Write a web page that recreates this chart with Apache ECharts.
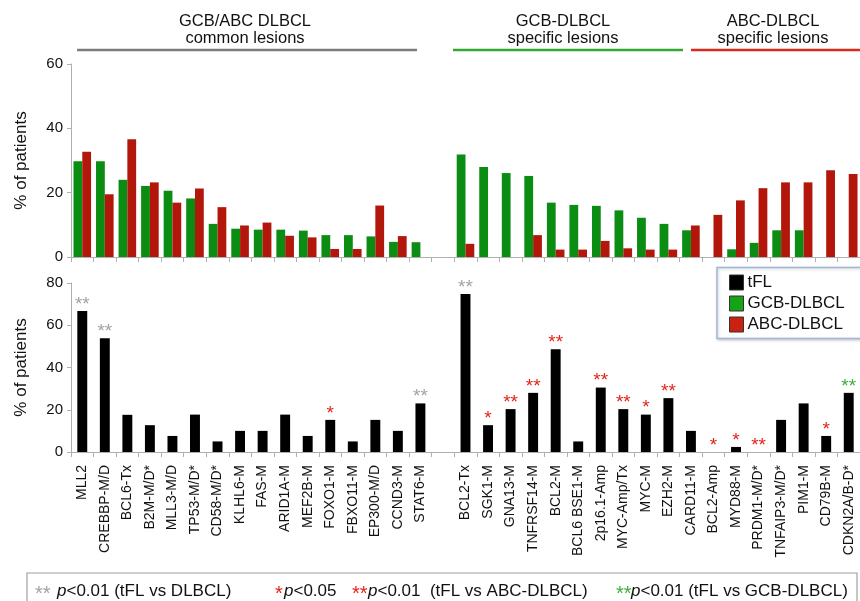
<!DOCTYPE html>
<html lang="en">
<head>
  <meta charset="UTF-8">
  <title>tFL vs DLBCL lesions</title>
  <script src="https://cdn.jsdelivr.net/npm/echarts@6/dist/echarts.min.js"></script>
  <style>
    html, body { margin: 0; padding: 0; background: #fff; overflow: hidden; }
    #main { width: 860px; height: 601px; }
  </style>
</head>
<body>

<div id="main"></div>

<script>
  var FONT = '"Liberation Sans", Arial, Helvetica, sans-serif';

  // lesions (empty string = gap between common and specific groups)
  var categories = [
    'MLL2', 'CREBBP-M/D', 'BCL6-Tx', 'B2M-M/D*', 'MLL3-M/D', 'TP53-M/D*', 'CD58-M/D*', 'KLHL6-M',
    'FAS-M', 'ARID1A-M', 'MEF2B-M', 'FOXO1-M', 'FBXO11-M', 'EP300-M/D', 'CCND3-M', 'STAT6-M',
    '',
    'BCL2-Tx', 'SGK1-M', 'GNA13-M', 'TNFRSF14-M', 'BCL2-M', 'BCL6 BSE1-M', '2p16.1-Amp', 'MYC-Amp/Tx',
    'MYC-M', 'EZH2-M',
    'CARD11-M', 'BCL2-Amp', 'MYD88-M', 'PRDM1-M/D*', 'TNFAIP3-M/D*', 'PIM1-M', 'CD79B-M', 'CDKN2A/B-D*'
  ];

  // top panel: DLBCL subtypes (% of patients)
  var gcbValues = [
    29.8, 29.8, 24.0, 22.1, 20.6, 18.2, 10.3, 8.8, 8.5, 8.5, 8.2, 6.8, 6.8, 6.4, 4.7, 4.6,
    null,
    31.9, 28.0, 26.1, 25.2, 16.9, 16.2, 15.9, 14.5, 12.2, 10.3,
    8.3, 0, 2.4, 4.4, 8.3, 8.3, 0, 0
  ];
  var abcValues = [
    32.7, 19.5, 36.6, 23.2, 16.9, 21.3, 15.5, 9.8, 10.7, 6.6, 6.1, 2.5, 2.5, 16.0, 6.5, 0,
    null,
    4.1, 0, 0, 6.8, 2.3, 2.3, 5.0, 2.7, 2.3, 2.3,
    9.8, 13.1, 17.6, 21.4, 23.2, 23.2, 27.0, 25.8
  ];

  // bottom panel: tFL (% of patients)
  var tflValues = [
    66.7, 53.8, 17.6, 12.7, 7.6, 17.7, 5.0, 10.0, 10.0, 17.7, 7.6, 15.2, 5.0, 15.2, 10.0, 23.0,
    null,
    74.8, 12.7, 20.3, 28.0, 48.6, 5.0, 30.5, 20.3, 17.7, 25.5,
    10.0, 0, 2.4, 0, 15.2, 23.0, 7.6, 28.0
  ];

  // significance marks above tFL bars
  var sigStars = [
    '**', '**', '', '', '', '', '', '', '', '', '', '*', '', '', '', '**',
    '',
    '**', '*', '**', '**', '**', '', '**', '**', '*', '**',
    '', '*', '*', '**', '', '', '*', '**'
  ];
  var sigKind = [
    'dl', 'dl', '', '', '', '', '', '', '', '', '', 'abc', '', '', '', 'dl',
    '',
    'dl', 'abc', 'abc', 'abc', 'abc', '', 'abc', 'abc', 'abc', 'abc',
    '', 'abc', 'abc', 'abc', '', '', 'abc', 'gcb'
  ];
  var sigColors = { dl: '#a3a3a3', abc: '#e2231a', gcb: '#3fae3a' };

  var topTicks = [0, 20, 40, 60];
  var bottomTicks = [0, 20, 40, 60, 80];

  var GREEN = '#0b8c12';
  var RED = '#b3170c';
  var AXIS = '#b0b0b0';

  var tflData = tflValues.map(function (v, i) {
    var item = { value: v };
    if (sigStars[i]) {
      item.label = {
        show: true,
        position: 'top',
        distance: -3,
        formatter: sigStars[i],
        color: sigColors[sigKind[i]],
        fontSize: 19,
        fontFamily: FONT
      };
    }
    return item;
  });

  function valueAxis(grid, ticks) {
    return {
      type: 'value',
      gridIndex: grid,
      min: ticks[0],
      max: ticks[ticks.length - 1],
      interval: ticks[1] - ticks[0],
      name: '% of patients',
      nameLocation: 'middle',
      nameGap: 41,
      nameTextStyle: { fontSize: 17, color: '#111', fontFamily: FONT },
      axisLine: { show: true, lineStyle: { color: AXIS } },
      axisTick: { show: true, length: 4, lineStyle: { color: AXIS } },
      axisLabel: { fontSize: 15, color: '#111', fontFamily: FONT, margin: 8 },
      splitLine: { show: false }
    };
  }

  function catAxis(grid, showLabels) {
    return {
      type: 'category',
      gridIndex: grid,
      data: categories,
      axisLine: { lineStyle: { color: AXIS } },
      axisTick: { show: true, length: 5, lineStyle: { color: AXIS } },
      axisLabel: {
        show: showLabels,
        interval: 0,
        rotate: 90,
        margin: 13,
        fontSize: 14,
        color: '#111',
        fontFamily: FONT
      }
    };
  }

  function header(text, x) {
    return {
      type: 'text',
      style: { text: text, x: x, y: 13, textAlign: 'center',
        font: '16.5px ' + FONT, fill: '#111', lineHeight: 17 }
    };
  }

  function note(text, x) {
    return {
      type: 'text',
      style: { text: text, x: x, y: 591, textVerticalAlign: 'middle',
        font: '17px ' + FONT, fill: '#111',
        rich: { i: { fontStyle: 'italic', fontSize: 17, fontFamily: FONT, fill: '#111' } } }
    };
  }

  function noteStars(text, x, color) {
    return {
      type: 'text',
      style: { text: text, x: x, y: 594, textVerticalAlign: 'middle', font: '20px ' + FONT, fill: color }
    };
  }

  var chart = echarts.init(document.getElementById('main'));

  chart.setOption({
    animation: false,
    backgroundColor: '#fff',
    textStyle: { fontFamily: FONT },
    grid: [
      { left: 71, top: 64, width: 794, height: 193 },
      { left: 71, top: 283, width: 794, height: 169 }
    ],
    xAxis: [catAxis(0, false), catAxis(1, true)],
    yAxis: [valueAxis(0, topTicks), valueAxis(1, bottomTicks)],
    legend: {
      orient: 'vertical',
      left: 717,
      top: 267,
      z: 20,
      padding: [7, 12, 7, 12],
      itemGap: 4,
      itemWidth: 14,
      itemHeight: 15,
      textStyle: { fontSize: 17, color: '#111', fontFamily: FONT, padding: [0, 0, 0, -1] },
      data: [
        { name: 'tFL', icon: 'rect', itemStyle: { color: '#000', borderColor: '#333', borderWidth: 1 } },
        { name: 'GCB-DLBCL', icon: 'rect', itemStyle: { color: '#16a316', borderColor: '#333', borderWidth: 1 } },
        { name: 'ABC-DLBCL', icon: 'rect', itemStyle: { color: '#cc2010', borderColor: '#333', borderWidth: 1 } }
      ]
    },
    series: [
      {
        name: 'GCB-DLBCL',
        type: 'bar',
        xAxisIndex: 0,
        yAxisIndex: 0,
        data: gcbValues,
        barGap: '0%',
        barCategoryGap: '22%',
        itemStyle: { color: GREEN }
      },
      {
        name: 'ABC-DLBCL',
        type: 'bar',
        xAxisIndex: 0,
        yAxisIndex: 0,
        data: abcValues,
        itemStyle: { color: RED }
      },
      {
        name: 'tFL',
        type: 'bar',
        xAxisIndex: 1,
        yAxisIndex: 1,
        data: tflData,
        barWidth: '44%',
        itemStyle: { color: '#000' }
      }
    ],
    graphic: [
      // group headers
      header('GCB/ABC DLBCL\ncommon lesions', 245),
      header('GCB-DLBCL\nspecific lesions', 563),
      header('ABC-DLBCL\nspecific lesions', 773),
      { type: 'line', shape: { x1: 77, y1: 50, x2: 417, y2: 50 }, style: { stroke: '#7d7d7d', lineWidth: 2.5 } },
      { type: 'line', shape: { x1: 453, y1: 50, x2: 683, y2: 50 }, style: { stroke: '#31a831', lineWidth: 2.5 } },
      { type: 'line', shape: { x1: 691, y1: 50, x2: 870, y2: 50 }, style: { stroke: '#d52b1e', lineWidth: 2.5 } },

      // legend frame, running off the right edge (no right side drawn)
      {
        type: 'rect',
        z: 1,
        shape: { x: 717, y: 267.5, width: 400, height: 71 },
        style: { fill: '#fff', stroke: '#9fb6d8', lineWidth: 1.5,
          shadowBlur: 3, shadowColor: 'rgba(0,0,0,0.2)', shadowOffsetX: 1, shadowOffsetY: 1 }
      },

      // footnote box
      {
        type: 'rect',
        shape: { x: 27, y: 573, width: 830, height: 40 },
        style: { fill: '#fff', stroke: '#a0a0a0', lineWidth: 1.2 }
      },
      noteStars('**', 35, sigColors.dl),
      note('{i|p}<0.01 (tFL vs DLBCL)', 57),
      noteStars('*', 275, sigColors.abc),
      note('{i|p}<0.05', 284),
      noteStars('**', 352, sigColors.abc),
      note('{i|p}<0.01  (tFL vs ABC-DLBCL)', 368),
      noteStars('**', 616, sigColors.gcb),
      note('{i|p}<0.01 (tFL vs GCB-DLBCL)', 631)
    ]
  });
</script>
</body>
</html>
